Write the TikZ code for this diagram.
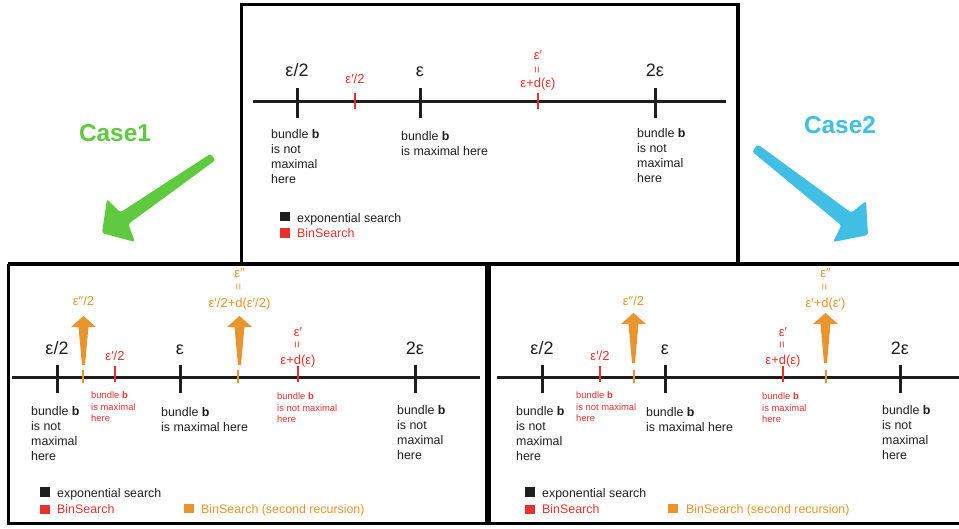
\documentclass[tikz,border=0pt]{standalone}
\usepackage{fontspec}
\setmainfont{Liberation Sans}
\definecolor{ink}{HTML}{1E1E1E}
\definecolor{binred}{HTML}{E5322D}
\definecolor{binorange}{HTML}{E8952F}
\definecolor{casegreen}{HTML}{5FC93F}
\definecolor{caseblue}{HTML}{40BEE4}
\begin{document}
\begin{tikzpicture}[x=1pt,y=-1pt,
  frame/.style={line width=3pt,draw=black},
  axis/.style={line width=3pt,draw=ink},
  btick/.style={line width=3pt,draw=ink},
  rtick/.style={line width=1.8pt,draw=binred},
  otick/.style={line width=1.5pt,draw=binorange},
  big/.style={font=\fontsize{18}{20}\selectfont,inner sep=0,anchor=base,text=ink},
  rlab/.style={font=\fontsize{13}{15}\selectfont,inner sep=0,anchor=base,text=binred},
  olab/.style={font=\fontsize{13}{15}\selectfont,inner sep=0,anchor=base,text=binorange},
  eqsign/.style={rotate=90,font=\fontsize{12}{12}\selectfont,inner sep=0},
  note/.style={font=\fontsize{12.4}{15}\selectfont,align=left,anchor=north west,inner sep=0,text=ink},
  rnote/.style={font=\fontsize{9.4}{11.5}\selectfont,align=left,anchor=north west,inner sep=0,text=binred},
  key/.style={minimum size=9.5pt,inner sep=0,draw=none},
  keytext/.style={font=\fontsize{12.4}{15}\selectfont,anchor=base west,inner sep=0},
  casetext/.style={font=\bfseries\fontsize{24.4}{26}\selectfont,inner sep=0},
  bigarrow/.style={draw=none,rounded corners=2.5pt},
  uparrow/.style={fill=binorange,draw=none}
]
\useasboundingbox (0,0) rectangle (959,528);

% ---------- frames ----------
\draw[frame] (241.5,4.5) rectangle (738,264);
\draw[frame,line width=4.5pt] (738,4.5) -- (738,264);
\draw[frame,line width=4pt] (8,264) -- (962,264);
\draw[frame] (8,264) -- (8,523.5) -- (962,523.5);
\draw[frame,line width=5.5pt] (488,264) -- (488,523.5);

% ---------- case labels and arrows ----------
\node[casetext,text=casegreen] (case1) at (115,133) {Case1};
\node[casetext,text=caseblue] (case2) at (840,125) {Case2};
\fill[casegreen,bigarrow] (210.7,153.7) -- (120.3,212.4) -- (107,199) -- (102,233)
  -- (135,242) -- (128.3,224) -- (215.3,160.3) -- cycle;
\fill[caseblue,bigarrow] (757.8,144.4) -- (851.3,212.7) -- (866,201) -- (868,235)
  -- (833,242) -- (841.4,225.4) -- (752.2,151.6) -- cycle;

% ---------- top panel ----------
\draw[axis] (253,101) -- (726,101);
\foreach \x in {297,420,655} \draw[btick] (\x,88) -- (\x,118);
\foreach \x in {355,538} \draw[rtick] (\x,93) -- (\x,109);
\node[big] (ta) at (297,76.5) {ε/2};
\node[big] (tb) at (420,76.5) {ε};
\node[big] (tc) at (655,76) {2ε};
\node[rlab] (tr1) at (355,83) {ε′/2};
\node[rlab] (tr2) at (538,59) {ε′};
\node[eqsign,text=binred] (tr2eq) at (538,69.5) {=};
\node[rlab] (tr2v) at (538,87) {ε+d(ε)};
\node[note] (tn1) at (271,129.5) {bundle \textbf{b}\\is not\\maximal\\here};
\node[note] (tn2) at (401,131.5) {bundle \textbf{b}\\is maximal here};
\node[note] (tn3) at (637,128.5) {bundle \textbf{b}\\is not\\maximal\\here};
\node[key,fill=ink] (tk1) at (285,216.5) {};
\node[key,fill=binred] (tk2) at (285,233) {};
\node[keytext,text=ink] (tk1t) at (297,222.5) {exponential search};
\node[keytext,text=binred] (tk2t) at (297,237) {BinSearch};

% ---------- bottom-left panel (case 1) ----------
\draw[axis] (12,377) -- (480,377);
\foreach \x in {57,180,415} \draw[btick] (\x,365) -- (\x,393);
\foreach \x in {115,298} \draw[rtick] (\x,366) -- (\x,382);
\foreach \x in {83,238} \draw[otick] (\x,370) -- (\x,383);
\foreach \x in {83.5,239.5}
  \fill[uparrow] (\x-1.5,365) -- (\x-5,327) -- (\x-12.5,327) -- (\x,316)
    -- (\x+12.5,327) -- (\x+5,327) -- (\x+1.5,365) -- cycle;
\node[big] (la) at (57,354) {ε/2};
\node[big] (lb) at (180,354) {ε};
\node[big] (lc) at (415,354) {2ε};
\node[rlab] (lr1) at (115,360) {ε′/2};
\node[rlab] (lr2) at (298,336) {ε′};
\node[eqsign,text=binred] (lr2eq) at (298,345) {=};
\node[rlab] (lr2v) at (298,364) {ε+d(ε)};
\node[olab] (lo1) at (83.5,305) {ε″/2};
\node[olab] (lo2) at (239.5,277) {ε″};
\node[eqsign,text=binorange] (lo2eq) at (239.5,287) {=};
\node[olab] (lo2v) at (239.5,307) {ε′/2+d(ε′/2)};
\node[rnote] (lrn1) at (91,391.5) {bundle \textbf{b}\\is maximal\\here};
\node[rnote] (lrn2) at (277,392.5) {bundle \textbf{b}\\is not maximal\\here};
\node[note] (ln1) at (31,406.5) {bundle \textbf{b}\\is not\\maximal\\here};
\node[note] (ln2) at (161,407.5) {bundle \textbf{b}\\is maximal here};
\node[note] (ln3) at (397,405.5) {bundle \textbf{b}\\is not\\maximal\\here};
\node[key,fill=ink] (lk1) at (45,492) {};
\node[key,fill=binred] (lk2) at (45,509.5) {};
\node[key,fill=binorange] (lk3) at (189,508.5) {};
\node[keytext,text=ink] (lk1t) at (57,497.5) {exponential search};
\node[keytext,text=binred] (lk2t) at (57,513.5) {BinSearch};
\node[keytext,text=binorange] (lk3t) at (201,513.5) {BinSearch (second recursion)};

% ---------- bottom-right panel (case 2) ----------
\draw[axis] (497,377) -- (962,377);
\foreach \x in {542,665,900} \draw[btick] (\x,365) -- (\x,393);
\foreach \x in {600,783} \draw[rtick] (\x,366) -- (\x,382);
\foreach \x in {634,826} \draw[otick] (\x,370) -- (\x,383);
\foreach \x in {633.5,825.5}
  \fill[uparrow] (\x-1.5,363) -- (\x-5,324) -- (\x-12.5,324) -- (\x,313)
    -- (\x+12.5,324) -- (\x+5,324) -- (\x+1.5,363) -- cycle;
\node[big] (ra) at (542,354) {ε/2};
\node[big] (rb) at (665,354) {ε};
\node[big] (rc) at (900,354) {2ε};
\node[rlab] (rr1) at (600,360) {ε′/2};
\node[rlab] (rr2) at (783,336) {ε′};
\node[eqsign,text=binred] (rr2eq) at (783,345) {=};
\node[rlab] (rr2v) at (783,364) {ε+d(ε)};
\node[olab] (ro1) at (633.5,305) {ε″/2};
\node[olab] (ro2) at (825.5,277) {ε″};
\node[eqsign,text=binorange] (ro2eq) at (825.5,287) {=};
\node[olab] (ro2v) at (825.5,307) {ε′+d(ε′)};
\node[rnote] (rrn1) at (576,391.5) {bundle \textbf{b}\\is not maximal\\here};
\node[rnote] (rrn2) at (762,392.5) {bundle \textbf{b}\\is maximal\\here};
\node[note] (rn1) at (516,406.5) {bundle \textbf{b}\\is not\\maximal\\here};
\node[note] (rn2) at (646,407.5) {bundle \textbf{b}\\is maximal here};
\node[note] (rn3) at (882,405.5) {bundle \textbf{b}\\is not\\maximal\\here};
\node[key,fill=ink] (rk1) at (530,492) {};
\node[key,fill=binred] (rk2) at (530,509.5) {};
\node[key,fill=binorange] (rk3) at (673,508.5) {};
\node[keytext,text=ink] (rk1t) at (542,497.5) {exponential search};
\node[keytext,text=binred] (rk2t) at (542,513.5) {BinSearch};
\node[keytext,text=binorange] (rk3t) at (686,513.5) {BinSearch (second recursion)};
\end{tikzpicture}
\end{document}
